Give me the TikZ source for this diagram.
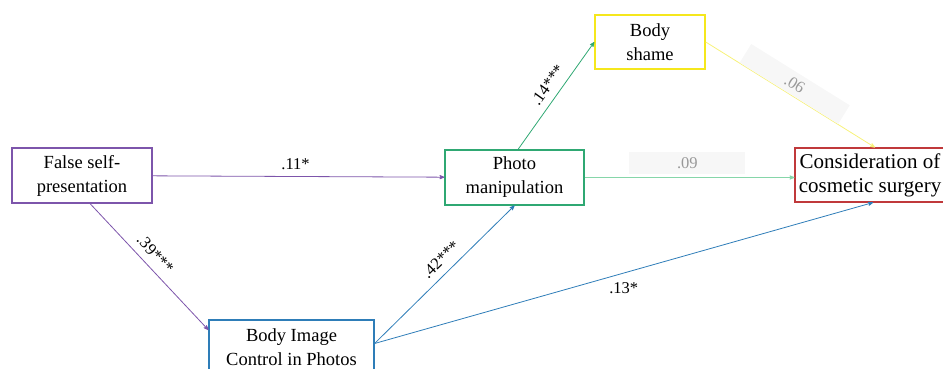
\documentclass[tikz,border=0pt]{standalone}
\usepackage{fontspec}
\setmainfont{Liberation Serif}
\newfontfamily\modelfont{Liberation Serif}
\usetikzlibrary{positioning, arrows}
\definecolor{fspurple}{HTML}{7D55AB}
\definecolor{bicblue}{HTML}{2E7DB8}
\definecolor{pmgreen}{HTML}{2FA873}
\definecolor{palegreen}{HTML}{86D6A9}
\definecolor{shyellow}{HTML}{F5E71C}
\definecolor{paleyellow}{HTML}{F7F27A}
\definecolor{csred}{HTML}{C0393B}
\tikzset{
>=stealth', % small filled heads
x=1pt, y=-1pt, % one unit is one pixel of the figure, y runs down
var/.style={draw, line width=1.1pt, align=center, minimum height=55pt, inner sep=2pt,
  font=\modelfont\fontsize{18.5}{24}\selectfont}, % the boxes of the model
path/.style={->, line width=0.8pt}, % the connectors
coef/.style={font=\modelfont\fontsize{16.5}{20}\selectfont, text=black}, % path coefficients
faint/.style={coef, fill=black!3, text=black!40, minimum width=116pt, minimum height=22pt}, % non significant ones
}

\begin{document}
\begin{tikzpicture}
        \useasboundingbox (0,0) rectangle (943,368);
        \node[var, draw=fspurple, minimum width=140pt] (false) at (82,175.5) {False self-\\presentation};
        \node[var, draw=pmgreen, minimum width=139pt] (photo) at (514.5,177.5) {Photo\\manipulation};
        \node[var, draw=shyellow, line width=1.4pt, minimum width=110pt, minimum height=54pt] (shame) at (650,42) {Body\\shame};
        \node[var, draw=csred, minimum width=150pt, minimum height=54pt,
          font=\modelfont\fontsize{21}{24}\selectfont] (consid) at (870,175) {Consideration of\\cosmetic surgery};
        \node[var, draw=bicblue, minimum width=165pt] (bic) at (291.5,347.5) {Body Image\\Control in Photos};

        \draw[path, fspurple] (false) -- node[coef, above=3pt, pos=.49]{.11*} (photo);
        \draw[path, fspurple] ([xshift=8pt]false.south) -- node[coef, sloped, above=4pt, pos=.47]{.39***} ([yshift=17.5pt]bic.west);
        \draw[path, bicblue] ([yshift=4pt]bic.east) -- node[coef, sloped, above=4pt, pos=.54]{.42***} (photo.south);
        \draw[path, bicblue] ([yshift=4pt]bic.east) -- node[coef, below=6pt, pos=.5]{.13*} ([xshift=3pt]consid.south);
        \draw[path, pmgreen] ([xshift=3.5pt]photo.north) -- node[coef, sloped, above=4pt, pos=.53]{.14***} (shame.west);
        \draw[path, palegreen] (photo.east) -- node[faint, above=3pt, pos=.49]{.09} (consid.west |- photo.east);
        \draw[path, paleyellow] (shame.east) -- node[faint, sloped, above=0pt, pos=.49]{.06} ([xshift=5pt]consid.north);
      \end{tikzpicture}
\end{document}
